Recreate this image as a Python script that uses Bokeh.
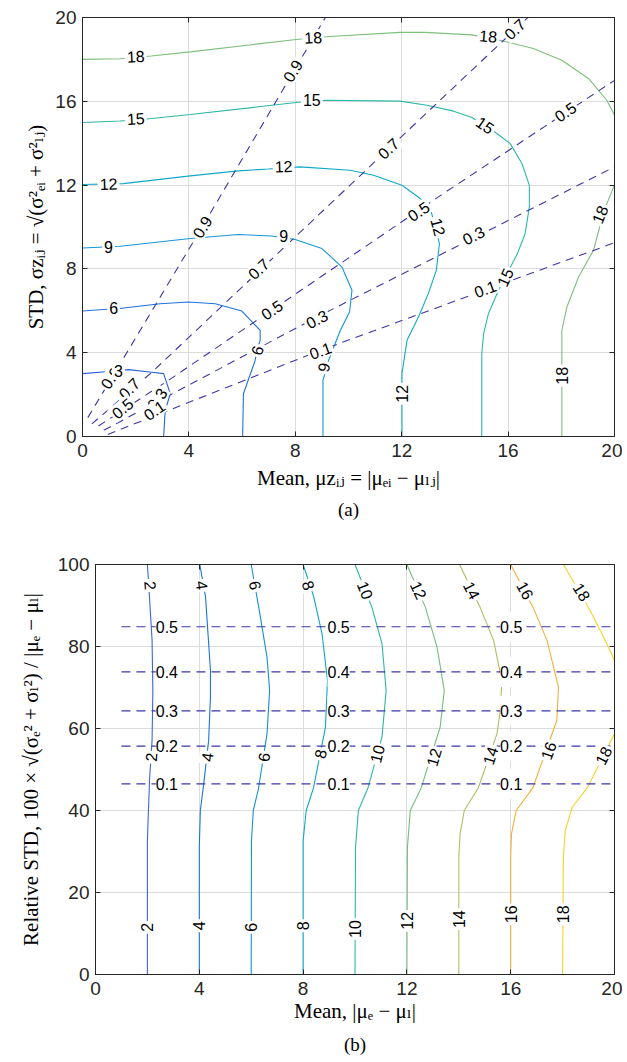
from bokeh.plotting import figure
from bokeh.models import Range1d, FixedTicker, LinearAxis, Title
from bokeh.embed import file_html
from bokeh.resources import INLINE
from bokeh.core.properties import value

# ======================= DATA : panel (a) =======================
A_XTICKS = [0, 4, 8, 12, 16, 20]
A_YTICKS = [0, 4, 8, 12, 16, 20]

# solid contour levels
A3_X = [0.0, 1.0, 1.73, 2.61, 3.05, 3.30, 3.11, 3.05]
A3_Y = [3.0, 3.1, 3.19, 3.07, 3.0, 2.04, 1.24, 0.0]
A6_X = [0.0, 1.17, 1.54, 2.92, 3.98, 4.99, 5.99, 6.68, 6.68, 6.56, 6.49, 6.05, 6.02]
A6_Y = [5.99, 6.1, 6.13, 6.34, 6.42, 6.34, 5.99, 5.06, 4.59, 4.11, 3.63, 2.04, 0.0]
A9_X = [0.0, 1.42, 4.05, 5.86, 7.12, 8.0, 9.0, 9.75, 10.13, 10.04, 9.69, 9.25, 9.04, 9.04]
A9_Y = [9.0, 9.08, 9.45, 9.64, 9.57, 9.4, 8.97, 8.1, 6.98, 5.94, 5.06, 3.63, 2.68, 0.0]
A12_X = [0.0, 1.54, 4.05, 5.86, 6.99, 8.18, 10.06, 10.94, 12.01, 12.7, 13.11, 13.42, 13.3,
         13.0, 12.63, 12.2, 12.01, 12.01]
A12_Y = [12.03, 12.07, 12.44, 12.68, 12.77, 12.87, 12.71, 12.47, 11.99, 11.36, 10.72, 9.21, 7.93,
         6.82, 5.70, 4.59, 3.0, 0.0]
A15_X = [0.0, 1.42, 2.61, 4.05, 8.03, 9.15, 11.94, 12.95, 13.95, 14.64, 15.58, 16.08, 16.52,
         16.8, 16.8, 16.64, 16.35, 15.64, 15.26, 15.08, 15.01, 15.01]
A15_Y = [14.99, 15.06, 15.18, 15.37, 15.94, 16.05, 16.01, 15.81, 15.53, 15.23, 14.46, 13.98, 13.03,
         11.99, 10.96, 9.68, 8.73, 6.98, 5.86, 4.91, 3.95, 0.0]
A18T_X = [0.0, 1.42, 2.58, 4.05, 8.03, 9.15, 11.94, 12.88, 14.64, 15.77, 16.95, 18.02, 19.02,
          19.71, 20.0]
A18T_Y = [18.0, 18.03, 18.16, 18.36, 18.95, 19.08, 19.29, 19.29, 19.17, 18.89, 18.52, 17.96, 17.09,
          16.05, 15.34]
A18R_X = [20.0, 19.61, 19.21, 18.65, 18.21, 18.02, 18.02]
A18R_Y = [12.0, 10.8, 8.89, 7.61, 6.18, 5.06, 0.0]

# dashed contour levels 0.9 ... 0.1
AD9_X = [0.2, 4.5, 9.13]
AD9_Y = [0.9, 10.0, 20.0]
AD7_X = [0.35, 2.61, 15.77, 16.74]
AD7_Y = [0.6, 3.07, 18.84, 20.0]
AD5_X = [0.6, 3.23, 13.57, 20.0]
AD5_Y = [0.5, 2.68, 11.6, 17.0]
AD3_X = [0.8, 8.81, 20.0]
AD3_Y = [0.3, 5.7, 12.87]
AD1_X = [0.95, 8.94, 20.0]
AD1_Y = [0.1, 4.11, 9.25]

# contour labels (a)
A_LBL_TXT = ["18", "18", "18", "18", "18",
             "15", "15", "15", "15",
             "12", "12", "12", "12",
             "9", "9", "9",
             "6", "6",
             "3"]
A_LBL_X = [2.0, 8.67, 15.25, 19.45, 18.02,
           2.0, 8.62, 15.14, 15.89,
           0.98, 7.56, 13.38, 12.01,
           0.98, 7.56, 9.06,
           1.17, 6.56,
           1.35]
A_LBL_Y = [18.15, 19.05, 19.11, 10.6, 2.9,
           15.18, 16.05, 14.86, 7.6,
           12.07, 12.9, 10.0, 2.04,
           9.05, 9.56, 3.3,
           6.12, 4.11,
           3.15]
A_LBL_ANG = [3, 3, -5, 68, 90,
             3, 0, -35, 65,
             2, 2, -75, 90,
             0, 0, 78,
             0, 75,
             0]

AD_LBL_TXT = ["0.9", "0.9", "0.9", "0.7", "0.7", "0.7", "0.7",
              "0.5", "0.5", "0.5", "0.5", "0.3", "0.3", "0.3", "0.1", "0.1", "0.1"]
AD_LBL_X = [7.9, 4.5, 1.05, 16.25, 11.5, 6.62, 1.75,
            18.15, 12.63, 7.12, 1.5, 14.7, 8.81, 2.8, 15.14, 8.94, 2.7]
AD_LBL_Y = [17.45, 10.0, 2.8, 19.45, 13.75, 8.0, 2.3,
            15.5, 10.75, 6.05, 1.35, 9.6, 5.6, 1.8, 7.05, 4.1, 1.25]
AD_LBL_ANG = [59, 59, 55, 43, 43, 43, 45,
              34, 34, 34, 40, 27, 27, 55, 20, 20, 35]

# ======================= DATA : panel (b) =======================
B_XTICKS = [0, 4, 8, 12, 16, 20]
B_YTICKS = [0, 20, 40, 60, 80, 100]

B2_X = [2.0, 2.0, 2.04, 2.07, 2.08, 2.18, 2.21, 2.18, 2.08, 2.0]
B2_Y = [0.0, 32.6, 40.0, 44.9, 47.3, 57.1, 69.3, 81.5, 92.1, 100.0]
B4_X = [4.0, 4.0, 4.04, 4.17, 4.36, 4.43, 4.43, 4.24, 4.02]
B4_Y = [0.0, 31.0, 40.0, 46.5, 57.1, 67.7, 74.2, 92.1, 100.0]
B6_X = [6.0, 6.01, 6.08, 6.28, 6.61, 6.71, 6.61, 6.29, 6.0]
B6_Y = [0.0, 32.6, 40.0, 45.3, 58.7, 69.3, 77.4, 89.6, 100.0]
B8_X = [8.0, 8.0, 8.12, 8.4, 8.86, 8.94, 8.73, 8.41, 8.0]
B8_Y = [0.0, 32.6, 40.0, 45.5, 60.3, 71.7, 83.1, 92.1, 100.0]
B10_X = [10.0, 10.02, 10.13, 10.5, 11.04, 11.2, 11.04, 10.65, 10.0]
B10_Y = [0.0, 31.0, 40.0, 45.5, 57.9, 69.3, 80.7, 89.6, 100.0]
B12_X = [12.0, 12.02, 12.13, 12.55, 13.28, 13.44, 13.16, 12.71, 12.0]
B12_Y = [0.0, 31.0, 40.0, 45.5, 60.3, 69.3, 79.9, 89.6, 100.0]
B14_X = [14.0, 14.0, 14.05, 14.21, 14.75, 15.47, 15.6, 15.66, 15.34, 14.82, 14.03]
B14_Y = [0.0, 28.6, 34.3, 40.0, 45.5, 58.7, 64.4, 71.7, 81.5, 89.6, 100.0]
B16_X = [16.0, 16.0, 16.03, 16.21, 16.85, 17.78, 17.84, 17.4, 16.88, 16.0]
B16_Y = [0.0, 28.6, 34.3, 40.0, 45.5, 62.0, 70.1, 81.5, 89.3, 100.0]
B18L_X = [18.0, 18.03, 18.1, 18.37, 18.95, 20.0]
B18L_Y = [0.0, 28.6, 35.1, 40.8, 45.5, 58.7]
B18H_X = [20.0, 19.64, 19.06, 18.03]
B18H_Y = [76.6, 81.5, 88.8, 100.0]

# dashed horizontal contours 0.1 ... 0.5
BD_LEVELS = ["0.1", "0.2", "0.3", "0.4", "0.5"]
BD_Y = [46.5, 55.7, 64.3, 73.8, 84.8]
BD_X0 = 1.0
BD_X1 = 20.0
BD_LBL_X = [2.75, 9.37, 16.02]

B_LBL_TXT = ["2", "4", "6", "8", "10", "12", "14", "16", "18"]
B_TOP_X = [2.12, 4.11, 6.16, 8.21, 10.4, 12.45, 14.5, 16.56, 18.74]
B_TOP_Y = [94.9, 94.9, 94.9, 94.9, 93.7, 93.7, 93.7, 93.7, 93.3]
B_TOP_ANG = [-86, -82, -80, -72, -68, -65, -63, -61, -58]
B_MID_X = [2.14, 4.3, 6.48, 8.66, 10.85, 13.03, 15.21, 17.45, 19.57]
B_MID_Y = [53.0, 53.0, 53.0, 53.8, 53.8, 53.0, 53.4, 54.6, 53.4]
B_MID_ANG = [86, 83, 81, 78, 76, 74, 72, 70, 63]
B_BOT_X = [2.0, 4.0, 6.0, 8.0, 10.0, 12.0, 14.0, 16.0, 18.0]
B_BOT_Y = [11.5, 11.9, 11.5, 11.9, 11.1, 13.1, 13.5, 14.7, 14.7]

# ======================= STYLE =======================
AXC = "#262626"
GRID = "#dcdcdc"
DASHC = "#3b37a6"
SANS = "Liberation Sans"
SERIF = "'Liberation Serif', 'DejaVu Serif', serif"


def make_fig(w, h, xr, yr, xt, yt, left, right, top, bottom, xlabel, ylabel,
             xlab_standoff, ylab_standoff):
    p = figure(width=w, height=h, x_range=Range1d(*xr), y_range=Range1d(*yr),
               output_backend="svg", toolbar_location=None,
               min_border_left=left, min_border_right=right,
               min_border_top=top, min_border_bottom=bottom)
    p.background_fill_color = "white"
    p.border_fill_color = "white"
    p.outline_line_color = AXC
    p.outline_line_width = 1
    for ax, ticks in ((p.xaxis[0], xt), (p.yaxis[0], yt)):
        ax.ticker = FixedTicker(ticks=ticks)
        ax.major_tick_in = 5
        ax.major_tick_out = 0
        ax.minor_tick_line_color = None
        ax.axis_line_color = AXC
        ax.major_tick_line_color = AXC
        ax.major_label_text_color = AXC
        ax.major_label_text_font = SANS
        ax.major_label_text_font_size = "19px"
        ax.axis_label_text_font = SERIF
        ax.axis_label_text_font_style = "normal"
        ax.axis_label_text_font_size = "21px"
        ax.axis_label_text_color = "#000000"
    p.xaxis[0].major_label_standoff = 7
    p.yaxis[0].major_label_standoff = 6
    p.xaxis[0].axis_label = xlabel
    p.xaxis[0].axis_label_standoff = xlab_standoff
    p.yaxis[0].axis_label = ylabel
    p.yaxis[0].axis_label_standoff = ylab_standoff
    for loc, ticks in (("right", yt), ("above", xt)):
        ax = LinearAxis(ticker=FixedTicker(ticks=ticks), major_tick_in=5, major_tick_out=0,
                        minor_tick_line_color=None, axis_line_color=AXC,
                        major_tick_line_color=AXC, major_label_text_font_size="0px",
                        major_label_text_color=None, major_label_standoff=0)
        p.add_layout(ax, loc)
    p.xgrid.ticker = FixedTicker(ticks=xt)
    p.ygrid.ticker = FixedTicker(ticks=yt)
    p.xgrid.grid_line_color = GRID
    p.ygrid.grid_line_color = GRID
    return p


def labels(p, xs, ys, txt, ang, size):
    p.text(x=xs, y=ys, text=txt, angle=ang, angle_units="deg",
           text_align="center", text_baseline="middle",
           text_font=value(SANS), text_font_size=size, text_color="black",
           background_fill_color="white", padding=2)


# ---------------- panel (a) ----------------
p1 = make_fig(622, 530, (0, 20), (0, 20), A_XTICKS, A_YTICKS, 82, 8, 17, 94,
              "Mean, μzᵢⱼ = |μₑᵢ − μₗⱼ|", "STD, σzᵢⱼ = √(σ²ₑᵢ + σ²ₗⱼ)", 6, 4)

a_solid = [(A3_X, A3_Y, "#2a62dc"), (A6_X, A6_Y, "#1f72df"), (A9_X, A9_Y, "#1596d6"),
           (A12_X, A12_Y, "#0eaac6"), (A15_X, A15_Y, "#2db7a6"),
           (A18T_X, A18T_Y, "#7dbf7b"), (A18R_X, A18R_Y, "#7dbf7b")]
for xs, ys, c in a_solid:
    p1.line(xs, ys, line_color=c, line_width=1.1)
for xs, ys in ((AD9_X, AD9_Y), (AD7_X, AD7_Y), (AD5_X, AD5_Y), (AD3_X, AD3_Y), (AD1_X, AD1_Y)):
    p1.line(xs, ys, line_color=DASHC, line_width=1.1, line_dash="8 6")
labels(p1, AD_LBL_X, AD_LBL_Y, AD_LBL_TXT, AD_LBL_ANG, "16px")
labels(p1, A_LBL_X, A_LBL_Y, A_LBL_TXT, A_LBL_ANG, "16px")
p1.add_layout(Title(text="(a)", align="center", text_font=SERIF, text_font_size="19px",
                    text_font_style="normal", text_color="#000000", standoff=8), "below")

# ---------------- panel (b) ----------------
p2 = make_fig(622, 532, (0, 20), (0, 100), B_XTICKS, B_YTICKS, 95, 8, 34, 88,
              "Mean, |μₑ − μₗ|", "Relative STD, 100 × √(σₑ² + σₗ²) / |μₑ − μₗ|", 1, 12)

b_solid = [(B2_X, B2_Y, "#3a66e0"), (B4_X, B4_Y, "#1a74dc"), (B6_X, B6_Y, "#1590d4"),
           (B8_X, B8_Y, "#0aa8c4"), (B10_X, B10_Y, "#2fb7a3"), (B12_X, B12_Y, "#74be7d"),
           (B14_X, B14_Y, "#b3bb62"), (B16_X, B16_Y, "#f2ae3c"),
           (B18L_X, B18L_Y, "#f9cf2c"), (B18H_X, B18H_Y, "#f9cf2c")]
for xs, ys, c in b_solid:
    p2.line(xs, ys, line_color=c, line_width=1.1)
for yv in BD_Y:
    p2.line([BD_X0, BD_X1], [yv, yv], line_color=DASHC, line_width=1.1, line_dash="9 6")
bd_x, bd_y, bd_t = [], [], []
for lv, yv in zip(BD_LEVELS, BD_Y):
    for xv in BD_LBL_X:
        bd_x.append(xv)
        bd_y.append(yv)
        bd_t.append(lv)
p2.text(x=bd_x, y=bd_y, text=bd_t, text_align="center", text_baseline="middle",
        text_font=value(SANS), text_font_size="16px", text_color="black",
        background_fill_color="white", padding=(0, 9))
labels(p2, B_TOP_X, B_TOP_Y, B_LBL_TXT, B_TOP_ANG, "16px")
labels(p2, B_MID_X, B_MID_Y, B_LBL_TXT, B_MID_ANG, "16px")
labels(p2, B_BOT_X, B_BOT_Y, B_LBL_TXT, [90] * len(B_LBL_TXT), "16px")
p2.add_layout(Title(text="(b)", align="center", text_font=SERIF, text_font_size="19px",
                    text_font_style="normal", text_color="#000000", standoff=12), "below")

open("out.html", "w").write(file_html([p1, p2], INLINE))
